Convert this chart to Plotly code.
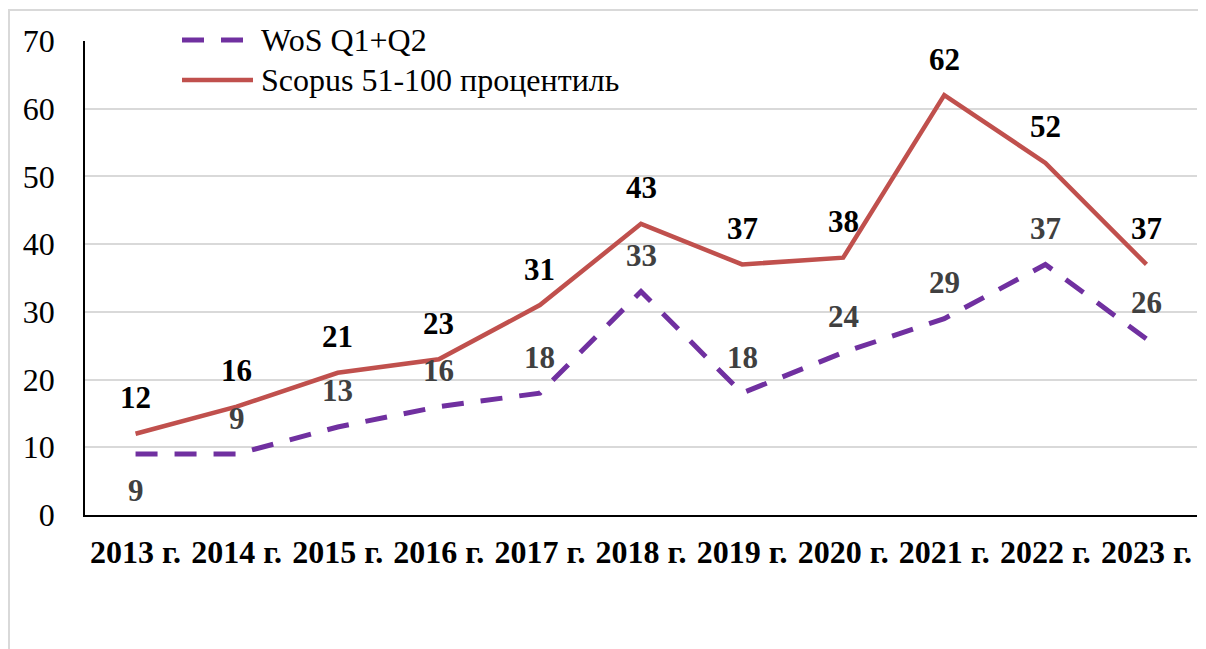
import plotly.graph_objects as go

years = ["2013 г.", "2014 г.", "2015 г.", "2016 г.", "2017 г.", "2018 г.",
         "2019 г.", "2020 г.", "2021 г.", "2022 г.", "2023 г."]
wos = [9, 9, 13, 16, 18, 33, 18, 24, 29, 37, 26]
scopus = [12, 16, 21, 23, 31, 43, 37, 38, 62, 52, 37]
wos_label_side = [-1, 1, 1, 1, 1, 1, 1, 1, 1, 1, 1]
names = ["WoS Q1+Q2", "Scopus 51-100 процентиль"]
y_ticks = [0, 10, 20, 30, 40, 50, 60, 70]

PURPLE = "#7030A0"
RED = "#C0504D"
FONT = "Times New Roman, Liberation Serif, DejaVu Serif, serif"

FIG_W, FIG_H = 1198, 641
OFF = 8  # page body margin
# plot area in page pixels
PL, PR, PT, PB = 85, 1197, 41, 515
L, R, T, B = PL - OFF, PR - OFF, PT - OFF, PB - OFF
W, H = R - L, B - T
def px(x):  # page x -> paper
    return (x - OFF - L) / W
def py(y):  # page y -> paper
    return (B - (y - OFF)) / H

fig = go.Figure()
fig.add_trace(go.Scatter(x=years, y=wos, mode="lines", name=names[0],
                         line=dict(color=PURPLE, width=5, dash="22px,17px"),
                         showlegend=False, hoverinfo="skip"))
fig.add_trace(go.Scatter(x=years, y=scopus, mode="lines", name=names[1],
                         line=dict(color=RED, width=4.5),
                         showlegend=False, hoverinfo="skip"))

annotations = []
for xv, yv, side in zip(years, wos, wos_label_side):
    annotations.append(dict(x=xv, y=yv, text=str(yv), showarrow=False,
                            yshift=36 * side, xref="x", yref="y",
                            font=dict(family=FONT, size=31, color="#404040", weight="bold")))
for xv, yv in zip(years, scopus):
    annotations.append(dict(x=xv, y=yv, text=str(yv), showarrow=False,
                            yshift=36, xref="x", yref="y",
                            font=dict(family=FONT, size=31, color="black", weight="bold")))

legend_rows = [(40, PURPLE, "22px,17px", 5), (80, RED, "solid", 4.5)]
shapes = []
for (yy, col, dash, w), nm in zip(legend_rows, names):
    shapes.append(dict(type="line", xref="paper", yref="paper",
                       x0=px(182), x1=px(253), y0=py(yy), y1=py(yy),
                       line=dict(color=col, width=w, dash=dash)))
    annotations.append(dict(x=px(259), y=py(yy), xref="paper", yref="paper",
                            text=nm, showarrow=False, xanchor="left", yanchor="middle",
                            font=dict(family=FONT, size=32, color="black")))

# outer border
shapes.append(dict(type="rect", xref="paper", yref="paper",
                   x0=px(9), x1=px(1230), y0=py(700), y1=py(10),
                   line=dict(color="#D9D9D9", width=2), layer="below"))

fig.update_layout(
    width=FIG_W, height=FIG_H,
    margin=dict(l=L, r=FIG_W - R, t=T, b=FIG_H - B, autoexpand=False),
    paper_bgcolor="white", plot_bgcolor="white",
    font=dict(family=FONT, color="black"),
    shapes=shapes, annotations=annotations,
    showlegend=False,
)
fig.update_xaxes(type="category", range=[-0.5, 10.5], showgrid=False,
                 showline=True, linecolor="black", linewidth=1.5, automargin=False,
                 ticks="", ticklabelstandoff=8,
                 tickfont=dict(family=FONT, size=32, color="black", weight="bold"))
fig.update_yaxes(range=[0, 70], tickvals=y_ticks, showgrid=True,
                 gridcolor="#D9D9D9", gridwidth=1.5, automargin=False,
                 showline=True, linecolor="black", linewidth=1.5,
                 ticks="", ticklabelstandoff=22, zeroline=False,
                 tickfont=dict(family=FONT, size=32, color="black"))

fig.write_html("out.html")
